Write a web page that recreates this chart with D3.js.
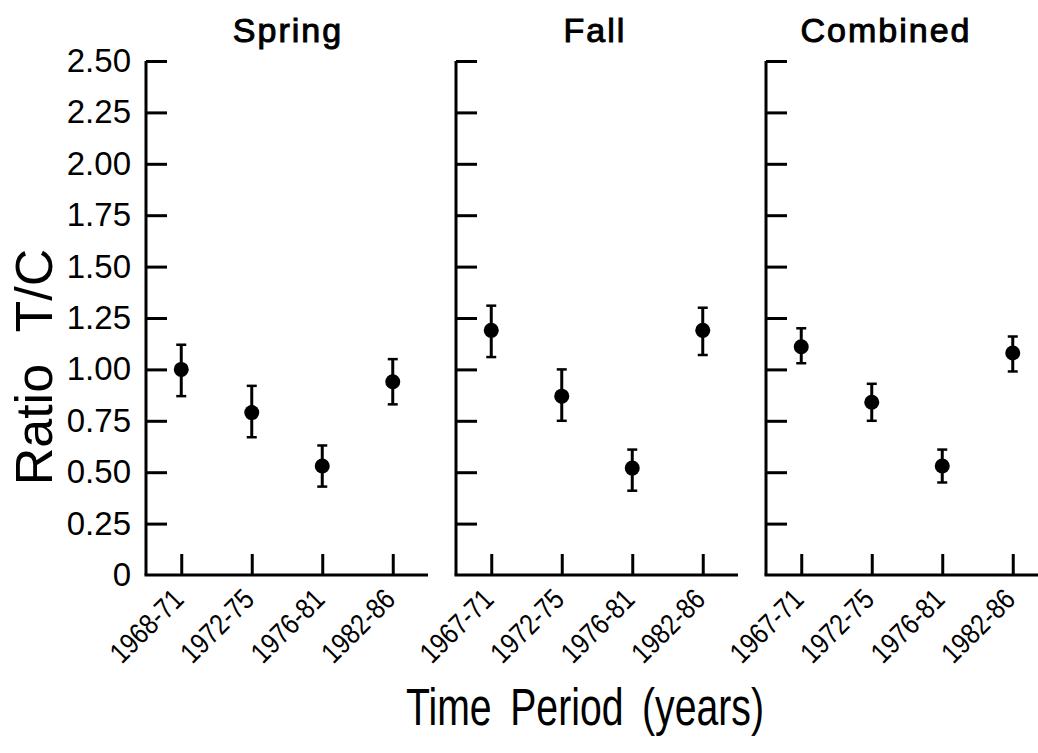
<!DOCTYPE html>
<meta charset="utf-8">
<style>
body { margin: 0; background: white; }
text { font-family: "Liberation Sans", Arial, sans-serif; fill: black; }
.axis path, .axis line { stroke: black; stroke-width: 3px; fill: none; }
</style>
<body>
<script src="https://d3js.org/d3.v7.min.js"></script>
<script>

// Size of the page
const width = 1038
const height = 753

// Panel titles and period labels
const panels = ['Spring', 'Fall', 'Combined']
const springPeriods = ['1968-71', '1972-75', '1976-81', '1982-86']
const fallPeriods = ['1967-71', '1972-75', '1976-81', '1982-86']
const combinedPeriods = ['1967-71', '1972-75', '1976-81', '1982-86']

// Ratio T/C means with lower and upper error bar ends
const springMean = [1.00, 0.79, 0.53, 0.94]
const springLow = [0.87, 0.67, 0.43, 0.83]
const springHigh = [1.12, 0.92, 0.63, 1.05]

const fallMean = [1.19, 0.87, 0.52, 1.19]
const fallLow = [1.06, 0.75, 0.41, 1.07]
const fallHigh = [1.31, 1.00, 0.61, 1.30]

const combinedMean = [1.11, 0.84, 0.53, 1.08]
const combinedLow = [1.03, 0.75, 0.45, 0.99]
const combinedHigh = [1.20, 0.93, 0.61, 1.16]

// Y axis tick values
const yTicks = [0, 0.25, 0.5, 0.75, 1.0, 1.25, 1.5, 1.75, 2.0, 2.25, 2.5]

const series = [
	{ title: panels[0], periods: springPeriods, mean: springMean, low: springLow, high: springHigh },
	{ title: panels[1], periods: fallPeriods, mean: fallMean, low: fallLow, high: fallHigh },
	{ title: panels[2], periods: combinedPeriods, mean: combinedMean, low: combinedLow, high: combinedHigh }
]

// titles are not quite centred over their panels in the original
const titleShift = [1, -2, -21]

const svg = d3.select('body')
	.append('svg')
	.attr('width', width)
	.attr('height', height)

// Shared vertical scale
const y = d3.scaleLinear()
	.domain([0, 2.5])
	.range([575, 61])

// Where each panel starts and how wide it is
const panelLeft = d3.scalePoint()
	.domain(panels)
	.range([146, 766])
const panelWidth = 282

series.forEach((s, i) => {
	const g = svg.append('g')
		.attr('transform', `translate(${panelLeft(s.title)},0)`)

	const x = d3.scalePoint()
		.domain(s.periods)
		.range([0, panelWidth])
		.padding(0.5)

	// vertical axis with inward ticks
	g.append('g')
		.attr('class', 'axis')
		.call(d3.axisRight(y).tickValues(yTicks.filter(d => d > 0)).tickSize(21).tickSizeOuter(0).tickFormat(''))
		.call(a => a.select('.domain').attr('d', `M0,${y(2.5)}V${y(0)}`))

	// horizontal axis with upward ticks
	g.append('g')
		.attr('class', 'axis')
		.attr('transform', `translate(0,${y(0)})`)
		.call(d3.axisBottom(x).tickSize(-21).tickSizeOuter(0).tickFormat(''))
		.call(a => a.select('.domain').attr('d', `M-1.5,0H${panelWidth}`))

	// rotated period labels
	g.selectAll('.period')
		.data(s.periods)
		.enter()
		.append('text')
		.attr('class', 'period')
		.attr('transform', d => `translate(${x(d) - 3},${y(0) + 19}) rotate(-45)`)
		.attr('text-anchor', 'end')
		.attr('dy', '0.35em')
		.attr('textLength', 90)
		.attr('lengthAdjust', 'spacingAndGlyphs')
		.style('font-size', '29px')
		.text(d => d)

	// panel title
	g.append('text')
		.attr('x', panelWidth / 2 + titleShift[i])
		.attr('y', 42)
		.attr('text-anchor', 'middle')
		.style('font-size', '34px')
		.style('stroke', 'black')
		.style('stroke-width', 1)
		.style('letter-spacing', '2px')
		.text(s.title)

	// error bars
	const bars = g.selectAll('.bar')
		.data(s.periods)
		.enter()
		.append('g')
		.attr('class', 'bar')
		.style('stroke', 'black')
		.style('stroke-width', 3)

	bars.append('line')
		.attr('x1', d => x(d)).attr('x2', d => x(d))
		.attr('y1', (d, j) => y(s.low[j])).attr('y2', (d, j) => y(s.high[j]))
	bars.append('line')
		.attr('x1', d => x(d) - 5).attr('x2', d => x(d) + 5)
		.attr('y1', (d, j) => y(s.high[j])).attr('y2', (d, j) => y(s.high[j]))
		.style('stroke-width', 2.5)
	bars.append('line')
		.attr('x1', d => x(d) - 5).attr('x2', d => x(d) + 5)
		.attr('y1', (d, j) => y(s.low[j])).attr('y2', (d, j) => y(s.low[j]))
		.style('stroke-width', 2.5)

	// mean points
	g.selectAll('circle')
		.data(s.periods)
		.enter()
		.append('circle')
		.attr('cx', d => x(d))
		.attr('cy', (d, j) => y(s.mean[j]))
		.attr('r', 7.5)
		.style('fill', 'black')
})

// tick labels on the left panel only
svg.append('g')
	.attr('transform', `translate(${panelLeft(panels[0])},0)`)
	.call(d3.axisLeft(y).tickValues(yTicks).tickSize(0).tickPadding(15)
		.tickFormat(d => d === 0 ? '0' : d3.format('.2f')(d)))
	.call(a => a.select('.domain').remove())
	.selectAll('text')
	.style('font-size', '33px')
	.style('font-family', '"Liberation Sans", Arial, sans-serif')

// axis titles
svg.append('text')
	.attr('transform', 'translate(52,367) rotate(-90)')
	.attr('text-anchor', 'middle')
	.style('font-size', '52px')
	.style('word-spacing', '18px')
	.text('Ratio T/C')

svg.append('text')
	.attr('x', 585)
	.attr('y', 725)
	.attr('text-anchor', 'middle')
	.attr('textLength', 358)
	.attr('lengthAdjust', 'spacingAndGlyphs')
	.style('font-size', '51px')
	.style('word-spacing', '10px')
	.text('Time Period (years)')

</script>
</body>
</html>
